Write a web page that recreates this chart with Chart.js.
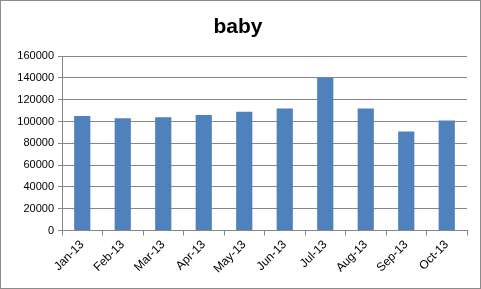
<!DOCTYPE html>
<html>
<head>
<meta charset="utf-8">
<script src="https://cdn.jsdelivr.net/npm/chart.js@4"></script>
<style>
  body{margin:0;background:#fff;}
  #wrap{width:481px;height:289px;box-sizing:border-box;border:1px solid #8c8c8c;background:#fff;}
</style>
</head>
<body>
<div id="wrap"><canvas id="chart" width="479" height="287"></canvas></div>
<script>
// --- Data ---
const months = ['Jan-13','Feb-13','Mar-13','Apr-13','May-13','Jun-13','Jul-13','Aug-13','Sep-13','Oct-13'];
const babyValues = [105000, 103000, 104000, 106000, 109000, 112000, 140500, 112000, 91000, 101000];
const yTicks = [0, 20000, 40000, 60000, 80000, 100000, 120000, 140000, 160000];

const axisFont = { family: "'Liberation Sans', Arial, sans-serif", size: 11 };

new Chart(document.getElementById('chart'), {
  type: 'bar',
  data: {
    labels: months,
    datasets: [{
      label: 'baby',
      data: babyValues,
      backgroundColor: '#4f81bd',
      barPercentage: 0.4,
      categoryPercentage: 1
    }]
  },
  options: {
    responsive: false,
    animation: false,
    layout: { padding: { left: 8, right: 13, top: 0, bottom: 10 } },
    plugins: {
      legend: { display: false },
      tooltip: { enabled: false },
      title: {
        display: true,
        text: 'baby',
        color: '#000',
        font: { family: "'Liberation Sans', Arial, sans-serif", size: 21, weight: 'bold' },
        padding: { top: 14, bottom: 16 }
      }
    },
    scales: {
      x: {
        offset: true,
        grid: { offset: true, drawOnChartArea: false, color: '#868686', tickLength: 5 },
        border: { color: '#868686' },
        ticks: { color: '#000', font: { ...axisFont, size: 12 }, maxRotation: 45, minRotation: 45, padding: 2 }
      },
      y: {
        min: 0,
        max: 160000,
        afterBuildTicks: axis => { axis.ticks = yTicks.map(v => ({ value: v })); },
        afterFit: axis => { axis.width = 53; },
        grid: { color: '#868686', tickLength: 4 },
        border: { color: '#868686' },
        ticks: { color: '#000', font: axisFont, padding: 4, callback: v => String(v) }
      }
    }
  }
});
</script>
</body>
</html>
